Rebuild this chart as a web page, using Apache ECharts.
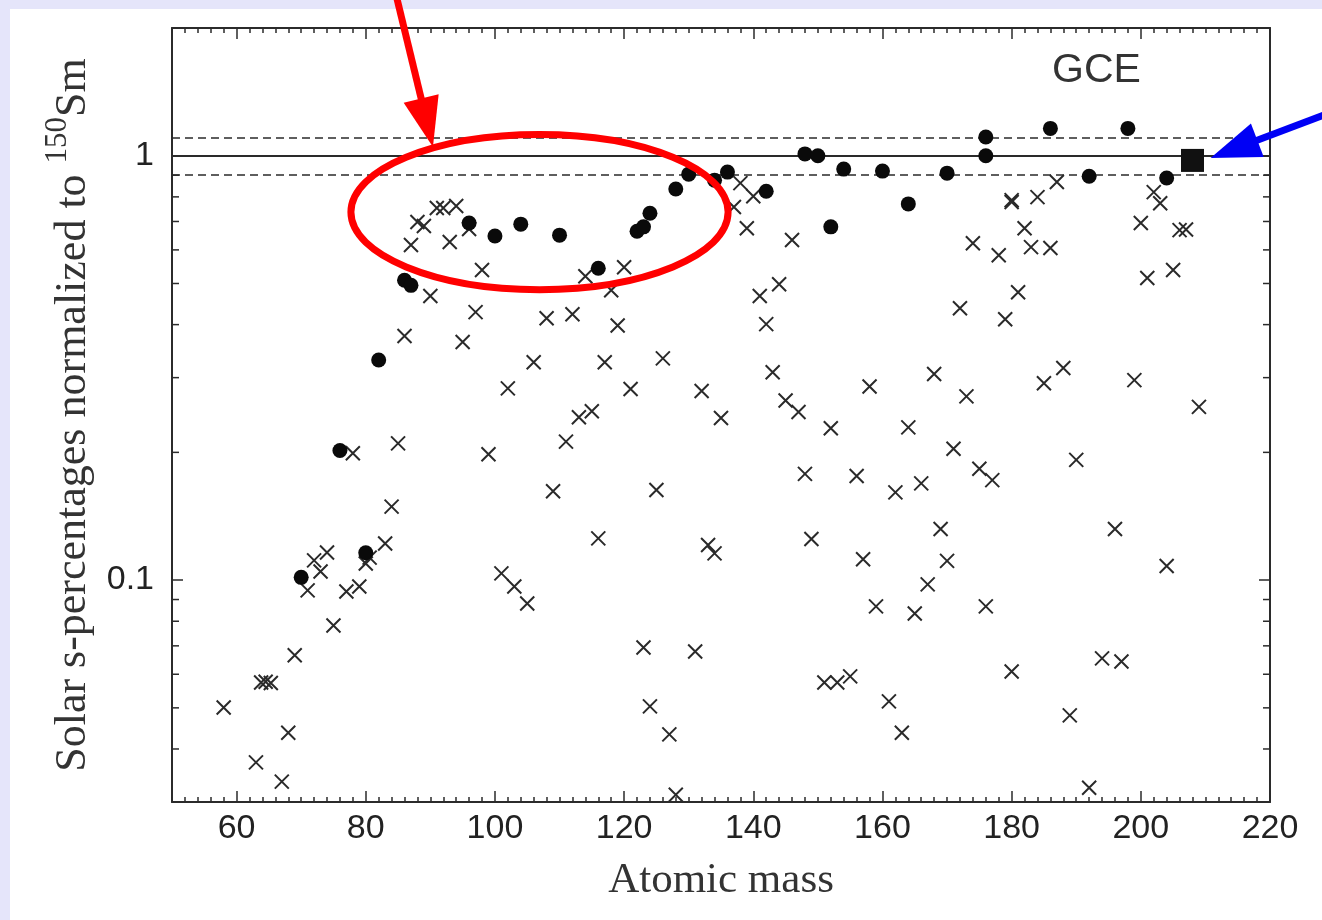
<!DOCTYPE html>
<html>
<head>
<meta charset="utf-8">
<script src="https://cdn.jsdelivr.net/npm/echarts@6/dist/echarts.min.js"></script>
<style>
  html, body { margin: 0; padding: 0; background: #e5e5fa; }
  #panel { position: absolute; left: 10px; top: 9px; width: 1312px; height: 911px; background: #fff; }
  #chart { position: absolute; left: 0; top: 0; width: 1322px; height: 920px; }
</style>
</head>
<body>
<div id="panel"></div>
<div id="chart"></div>
<script>
// axis ranges
const xMin = 50, xMax = 220;
const yMin = 0.03, yMax = 2;
const xMajorTicks = [60, 80, 100, 120, 140, 160, 180, 200, 220];
const yMinorTicks = [0.04, 0.05, 0.06, 0.07, 0.08, 0.09, 0.2, 0.3, 0.4, 0.5, 0.6, 0.7, 0.8, 0.9];
// unity line and +-10% band
const bandRatio = [1.1, 1, 0.9];

// s-only isotopes (filled circles)
const circleMass = [70, 76, 80, 82, 86, 87, 96, 100, 104, 110,
  116, 122, 123, 124, 128, 130, 134, 136, 142, 148,
  150, 152, 154, 160, 164, 170, 176, 176, 186, 192,
  198, 204];
const circleRatio = [0.1015, 0.202, 0.116, 0.33, 0.509, 0.495, 0.694, 0.647, 0.69, 0.65,
  0.543, 0.664, 0.68, 0.732, 0.835, 0.905, 0.876, 0.915, 0.825, 1.01,
  1.0, 0.68, 0.93, 0.92, 0.77, 0.91, 1.107, 1.0, 1.16, 0.895,
  1.16, 0.886];

// other isotopes (crosses)
const crossMass = [58, 63, 63.8, 64.5, 65.3, 67, 68, 69, 71, 72,
  73, 74, 75, 77, 78, 79, 80, 80.6, 83, 84,
  85, 86, 87, 88, 89, 90, 91, 92, 93, 94,
  95, 96, 97, 98, 99, 101, 102, 103, 105, 106,
  108, 109, 111, 112, 113, 114, 115, 116, 117, 118,
  119, 120, 121, 123, 124, 125, 126, 127, 128, 131,
  132, 133, 134, 135, 137, 138, 139, 140, 141, 142,
  143, 144, 145, 146, 147, 148, 149, 151, 152, 153,
  155, 156, 157, 158, 159, 161, 162, 163, 164, 165,
  166, 167, 168, 169, 170, 171, 172, 173, 174, 175,
  176, 177, 178, 179, 180, 180, 180, 181, 182, 183,
  184, 185, 186, 187, 188, 189, 190, 192, 194, 196,
  197, 199, 200, 201, 202, 203, 204, 205, 206, 207, 209];
const crossRatio = [0.0501, 0.0372, 0.0574, 0.0576, 0.0572, 0.0335, 0.0437, 0.0665, 0.0946, 0.1113,
  0.1048, 0.1162, 0.0782, 0.094, 0.199, 0.0966, 0.1094, 0.113, 0.122, 0.149,
  0.21, 0.376, 0.616, 0.698, 0.683, 0.467, 0.753, 0.753, 0.626, 0.761,
  0.364, 0.672, 0.428, 0.538, 0.198, 0.1037, 0.283, 0.0966, 0.0881, 0.326,
  0.414, 0.162, 0.212, 0.423, 0.242, 0.52, 0.25, 0.1254, 0.326, 0.482,
  0.398, 0.546, 0.282, 0.0694, 0.0504, 0.163, 0.333, 0.0433, 0.0312, 0.0679,
  0.279, 0.121, 0.1156, 0.241, 0.757, 0.862, 0.675, 0.803, 0.467, 0.401,
  0.309, 0.498, 0.265, 0.633, 0.249, 0.178, 0.125, 0.0574, 0.228, 0.0574,
  0.0593, 0.176, 0.112, 0.286, 0.0867, 0.0518, 0.161, 0.0437, 0.229, 0.0834,
  0.169, 0.0977, 0.306, 0.132, 0.111, 0.204, 0.437, 0.271, 0.622, 0.183,
  0.0867, 0.172, 0.583, 0.412, 0.786, 0.778, 0.0609, 0.477, 0.675, 0.609,
  0.799, 0.291, 0.606, 0.867, 0.316, 0.048, 0.192, 0.0324, 0.0654, 0.132,
  0.0643, 0.296, 0.694, 0.515, 0.821, 0.773, 0.108, 0.538, 0.668, 0.67, 0.256];

// 208Pb (square)
const squareMass = [208];
const squareRatio = [0.975];

// annotations, in data units
const ellipseMass = [77.7, 136.1];
const ellipseRatio = [1.122, 0.4836];
const redArrowMass = [84.7, 90.4];
const redArrowRatio = [2.39, 1.048];
const blueArrowMass = [228.3, 210.8];
const blueArrowRatio = [1.247, 0.988];

const axisColor = '#2b2b2b';
const sans = 'Liberation Sans';
const serif = 'Liberation Serif';

const chart = echarts.init(document.getElementById('chart'));

function isMultiple(v, step) {
  return Math.abs(v / step - Math.round(v / step)) < 1e-6;
}

function arrow(p0, p1, headLen, headHalf, width, color) {
  const dx = p1[0] - p0[0], dy = p1[1] - p0[1];
  const len = Math.hypot(dx, dy);
  const ux = dx / len, uy = dy / len;
  const nx = -uy, ny = ux;
  const bx = p1[0] - ux * headLen, by = p1[1] - uy * headLen;
  return {
    type: 'group',
    children: [
      { type: 'line', shape: { x1: p0[0], y1: p0[1], x2: bx + ux * 3, y2: by + uy * 3 },
        style: { stroke: color, lineWidth: width } },
      { type: 'polygon', shape: { points: [[p1[0], p1[1]], [bx + nx * headHalf, by + ny * headHalf], [bx - nx * headHalf, by - ny * headHalf]] },
        style: { fill: color } }
    ]
  };
}

function arrowSeries(mass, ratio, color) {
  return {
    type: 'custom', silent: true, z: 10, clip: false,
    encode: { x: [0, 2], y: [1, 3] },
    data: [[mass[0], ratio[0], mass[1], ratio[1]]],
    renderItem: function (params, api) {
      const p0 = api.coord([api.value(0), api.value(1)]);
      const p1 = api.coord([api.value(2), api.value(3)]);
      return arrow(p0, p1, 50, 18, 7, color);
    }
  };
}

const minorX = {
  type: 'value', min: xMin, max: xMax, interval: 2,
  axisLine: { show: true, onZero: false, lineStyle: { color: axisColor, width: 2 } },
  axisTick: { show: true, inside: true, length: 5, lineStyle: { color: axisColor, width: 1.5 } },
  splitLine: { show: false }
};
const majorX = {
  type: 'value', min: xMin, max: xMax,
  axisLine: { show: false, onZero: false },
  axisTick: { show: true, inside: true, length: 11, customValues: xMajorTicks, lineStyle: { color: axisColor, width: 1.5 } },
  axisLabel: { show: false },
  splitLine: { show: false }
};

const option = {
  animation: false,
  title: {
    text: 'GCE', left: 1052, top: 50, padding: 0,
    textStyle: { fontFamily: sans, fontSize: 41, fontWeight: 'normal', color: '#333' }
  },
  grid: { left: 172, right: 52, top: 28, bottom: 118, containLabel: false },
  xAxis: [
    Object.assign({}, minorX, {
      position: 'bottom',
      name: 'Atomic mass', nameLocation: 'middle', nameGap: 57,
      nameTextStyle: { fontFamily: serif, fontSize: 43, color: '#333' },
      axisLabel: {
        show: true, margin: 10, fontFamily: sans, fontSize: 34, color: '#222',
        formatter: function (v) { return isMultiple(v, 20) ? String(Math.round(v)) : ''; }
      }
    }),
    Object.assign({}, majorX, { position: 'bottom' }),
    Object.assign({}, minorX, { position: 'top', axisLabel: { show: false } }),
    Object.assign({}, majorX, { position: 'top' })
  ],
  yAxis: [
    {
      type: 'log', logBase: 10, min: yMin, max: yMax, position: 'left',
      axisLine: { show: true, onZero: false, lineStyle: { color: axisColor, width: 2 } },
      axisTick: { show: true, inside: true, length: 11, lineStyle: { color: axisColor, width: 1.5 } },
      splitLine: { show: false },
      axisLabel: {
        margin: 18, fontFamily: sans, fontSize: 34, color: '#222',
        formatter: function (v) {
          const l = Math.log10(v);
          return Math.abs(l - Math.round(l)) < 1e-6 ? String(+v.toPrecision(3)) : '';
        }
      },
      name: '{a|Solar s-percentages normalized to }{s|150}{a|Sm}',
      nameLocation: 'middle', nameGap: 68,
      nameTextStyle: {
        fontFamily: serif, fontSize: 44, color: '#333',
        rich: {
          a: { fontFamily: serif, fontSize: 44, color: '#333', lineHeight: 46, verticalAlign: 'bottom' },
          s: { fontFamily: serif, fontSize: 31, color: '#333', lineHeight: 31, padding: [0, 0, 22, 0], verticalAlign: 'bottom' }
        }
      }
    },
    {
      type: 'log', logBase: 10, min: yMin, max: yMax, position: 'right',
      axisLine: { show: true, onZero: false, lineStyle: { color: axisColor, width: 2 } },
      axisTick: { show: true, inside: true, length: 11, lineStyle: { color: axisColor, width: 1.5 } },
      axisLabel: { show: false },
      splitLine: { show: false }
    }
  ],
  series: [
    {
      // minor ticks of the log axes, both sides
      type: 'custom', silent: true, z: 3,
      data: yMinorTicks.map(v => [xMin, v]),
      renderItem: function (params, api) {
        const l = api.coord([xMin, api.value(1)]);
        const r = api.coord([xMax, api.value(1)]);
        return {
          type: 'group',
          children: [
            { type: 'line', shape: { x1: l[0], y1: l[1], x2: l[0] + 7, y2: l[1] }, style: { stroke: axisColor, lineWidth: 1.5 } },
            { type: 'line', shape: { x1: r[0] - 7, y1: r[1], x2: r[0], y2: r[1] }, style: { stroke: axisColor, lineWidth: 1.5 } }
          ]
        };
      }
    },
    {
      name: 'others', type: 'scatter', z: 4,
      symbol: 'path://M0,0L10,10M10,0L0,10', symbolSize: 14,
      itemStyle: { color: 'rgba(0,0,0,0)', borderColor: '#2a2a2a', borderWidth: 2, opacity: 1 },
      data: crossMass.map((m, i) => [m, crossRatio[i]]),
      markLine: {
        silent: true, symbol: 'none', label: { show: false },
        data: bandRatio.map(v => ({
          yAxis: v,
          lineStyle: { color: '#2a2a2a', width: v === 1 ? 2 : 1.7, type: v === 1 ? 'solid' : [8, 5] }
        }))
      }
    },
    {
      name: 's-only', type: 'scatter', z: 5,
      symbol: 'circle', symbolSize: 15,
      itemStyle: { color: '#0a0a0a', opacity: 1 },
      data: circleMass.map((m, i) => [m, circleRatio[i]])
    },
    {
      name: '208Pb', type: 'scatter', z: 5,
      symbol: 'rect', symbolSize: 23,
      itemStyle: { color: '#111', opacity: 1 },
      data: squareMass.map((m, i) => [m, squareRatio[i]])
    },
    {
      type: 'custom', silent: true, z: 10, clip: false,
      encode: { x: [0, 2], y: [1, 3] },
      data: [[ellipseMass[0], ellipseRatio[0], ellipseMass[1], ellipseRatio[1]]],
      renderItem: function (params, api) {
        const a = api.coord([api.value(0), api.value(1)]);
        const b = api.coord([api.value(2), api.value(3)]);
        return {
          type: 'ellipse',
          shape: { cx: (a[0] + b[0]) / 2, cy: (a[1] + b[1]) / 2, rx: Math.abs(b[0] - a[0]) / 2, ry: Math.abs(b[1] - a[1]) / 2 },
          style: { fill: 'none', stroke: '#f00', lineWidth: 7 }
        };
      }
    },
    arrowSeries(redArrowMass, redArrowRatio, '#f00'),
    arrowSeries(blueArrowMass, blueArrowRatio, '#0000f5')
  ]
};

chart.setOption(option);
</script>
</body>
</html>
